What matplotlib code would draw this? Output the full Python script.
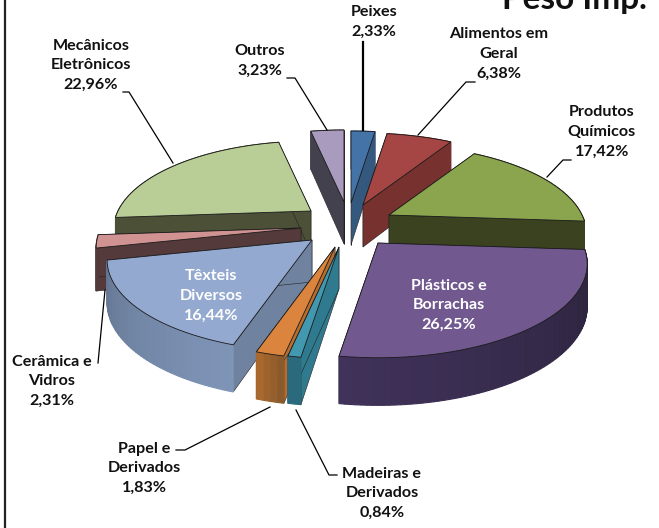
import numpy as np
import matplotlib
matplotlib.use('Agg')
import matplotlib.pyplot as plt

plt.rcParams['font.family'] = ['Lato', 'DejaVu Sans']

names = ['Peixes', 'Alimentos em\nGeral', 'Produtos\nQuímicos', 'Plásticos e\nBorrachas',
         'Madeiras e\nDerivados', 'Papel e\nDerivados', 'Têxteis\nDiversos',
         'Cerâmica e\nVidros', 'Mecânicos\nEletrônicos', 'Outros']
values = [2.33, 6.38, 17.42, 26.25, 0.84, 1.83, 16.44, 2.31, 22.96, 3.23]

# ponta de cada fatia (explosao) e raio, em pixels
apex_x = [351, 363, 389, 378, 339, 335, 312, 301, 311, 344]
apex_y = [203, 205, 215, 243, 247, 247, 240, 228, 211, 202]
radius = [200, 200, 193, 204, 200, 200, 200, 200, 193, 200]

top_col = ['#4473a8', '#a54644', '#8aa54e', '#71588f', '#4298af', '#db843d', '#93a9cf', '#d09392', '#b9cd96', '#a99bbd']
side_col = ['#35587f', '#773230', '#3a4220', '#352b45', '#2f7a8e', '#b86c2e', '#6f83a0', '#543a3a', '#4b5037', '#44414f']
rim_a = ['#35587f', '#773230', '#3a4220', '#2a223a', '#2a6a7c', '#8a5a2c', '#7f95b8', '#543a3a', '#4b5037', '#44414f']
rim_b = ['#35587f', '#773230', '#3a4220', '#40325a', '#2a6a7c', '#a8682e', '#657793', '#543a3a', '#4b5037', '#44414f']

# ordem de desenho, de tras para frente
order = [9, 0, 1, 8, 2, 7, 6, 3, 5, 4]

BOWL = 0.438
PERSP = 0.217
DEPTH = 42


def project(theta, r, ax0, ay0):
    x = r * np.sin(theta)
    y = r * np.cos(theta)
    s = 1 / (1 + PERSP * y / 200)
    return ax0 + s * x, ay0 - s * BOWL * y, DEPTH * s ** 0.5


def mix(c1, c2, t):
    a = np.array(matplotlib.colors.to_rgb(c1))
    b = np.array(matplotlib.colors.to_rgb(c2))
    return tuple(a + (b - a) * t)


fig = plt.figure(figsize=(6.59, 5.28), dpi=100)
ax = fig.add_axes([0, 0, 1, 1])
ax.set_xlim(0, 659)
ax.set_ylim(528, 0)
ax.axis('off')

edges = np.cumsum([0] + values) / sum(values) * 2 * np.pi

for i in order:
    th = np.linspace(edges[i], edges[i + 1], max(3, int(values[i] * 3)))
    px, py, h = project(th, radius[i], apex_x[i], apex_y[i])
    ax0, ay0 = apex_x[i], apex_y[i]

    # paredes radiais
    for k in (0, -1):
        ax.fill([ax0, px[k], px[k], ax0], [ay0, py[k], py[k] + h[k], ay0 + DEPTH],
                color=side_col[i], ec='#222222', lw=0.4)
    # parede externa em tiras, para o degrade
    for k in range(len(th) - 1):
        c = mix(rim_a[i], rim_b[i], k / max(1, len(th) - 2))
        ax.fill([px[k], px[k + 1], px[k + 1], px[k]],
                [py[k], py[k + 1], py[k + 1] + h[k + 1], py[k] + h[k]],
                fc=c, ec=c, lw=0.8)
    # face de cima
    ax.fill(np.r_[ax0, px], np.r_[ay0, py], color=top_col[i], ec='#1a1a1a', lw=0.6)

# linhas de chamada
leaders = [
    ([123, 129, 173], [92, 92, 163], 0.9),
    ([287, 295, 327], [78, 78, 130], 0.9),
    ([363, 363], [42, 130], 1.6),
    ([475, 466, 418], [82, 82, 135], 0.9),
    ([571, 563, 547], [160, 160, 177], 0.9),
    ([98, 105], [363, 290], 0.9),
    ([176, 185, 270], [450, 450, 407], 0.9),
    ([337, 329, 296], [475, 475, 410], 0.9),
]
for lx, ly, lw in leaders:
    ax.plot(lx, ly, color='black', lw=lw, zorder=3)

label_x = [374, 499, 602, 449, 382, 144, 211, 52, 91, 260]
label_y = [22, 54, 132, 305, 493, 468, 296, 381, 65, 61]
label_c = ['#111111', '#111111', '#111111', 'white', '#111111', '#111111', 'white', '#111111', '#111111', '#111111']

for i in range(len(names)):
    txt = names[i] + '\n' + f'{values[i]:.2f}'.replace('.', ',') + '%'
    ax.text(label_x[i], label_y[i], txt, ha='center', va='center', fontsize=11.6,
            fontweight='bold', color=label_c[i], linespacing=1.5, zorder=4)

# titulo cortado no alto e moldura da esquerda
ax.text(502, 9, 'Peso Imp.', fontsize=24, fontweight='bold', color='#111111', va='baseline', zorder=4)
ax.plot([4.5, 4.5], [0, 528], color='#222222', lw=1.6, zorder=3)

fig.savefig('out.png', dpi=100)
